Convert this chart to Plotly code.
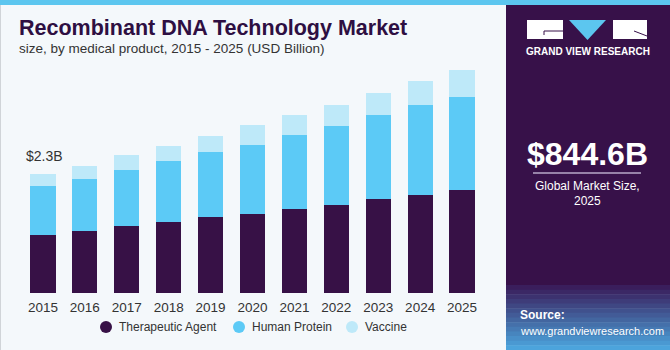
import plotly.graph_objects as go

years = ["2015", "2016", "2017", "2018", "2019", "2020", "2021", "2022", "2023", "2024", "2025"]
therapeutic = [1.12, 1.19, 1.29, 1.38, 1.46, 1.53, 1.63, 1.70, 1.81, 1.89, 1.99]
human_protein = [0.95, 1.01, 1.08, 1.17, 1.26, 1.33, 1.43, 1.52, 1.62, 1.75, 1.79]
vaccine = [0.23, 0.26, 0.29, 0.29, 0.32, 0.38, 0.38, 0.41, 0.43, 0.46, 0.53]
series_names = ["Therapeutic Agent", "Human Protein", "Vaccine"]
colors = ["#371146", "#5ccaf6", "#bee9f9"]

W, H = 670, 350
ML, MR, MT, MB = 22, 187, 60, 57
PW, PH = W - ML - MR, H - MT - MB


def px(x):
    return (x - ML) / PW


def py(y):
    return (H - MB - y) / PH


fig = go.Figure()
for name, vals, c in zip(series_names, [therapeutic, human_protein, vaccine], colors):
    fig.add_trace(go.Bar(x=years, y=vals, name=name, marker=dict(color=c, line=dict(width=0)),
                         showlegend=False, hoverinfo="skip"))

shapes = []
# top stripe
shapes.append(dict(type="rect", xref="paper", yref="paper", x0=px(0), x1=px(W), y0=py(5), y1=py(0),
                   fillcolor="#5cc6ef", line=dict(width=0), layer="below"))
# left border
shapes.append(dict(type="line", xref="paper", yref="paper", x0=px(0.5), x1=px(0.5), y0=py(H), y1=py(5),
                   line=dict(color="#d0d4d8", width=1)))
# right panel
shapes.append(dict(type="rect", xref="paper", yref="paper", x0=px(506), x1=px(W), y0=py(285), y1=py(5),
                   fillcolor="#371149", line=dict(width=0)))
# gradient source area
n = 14
c0 = (0x3a, 0x1e, 0x5c)
c1 = (0x4c, 0xa4, 0xdc)
for i in range(n):
    t = i / (n - 1)
    col = "rgb(%d,%d,%d)" % tuple(int(a + (b - a) * t) for a, b in zip(c0, c1))
    y0 = 285 + i * (H - 285) / n
    y1 = 285 + (i + 1) * (H - 285) / n
    shapes.append(dict(type="rect", xref="paper", yref="paper", x0=px(506), x1=px(W), y0=py(y1 + 0.5), y1=py(y0),
                       fillcolor=col, line=dict(width=0)))
# logo
shapes.append(dict(type="rect", xref="paper", yref="paper", x0=px(527), x1=px(563), y0=py(39), y1=py(20),
                   fillcolor="white", line=dict(width=0)))
shapes.append(dict(type="rect", xref="paper", yref="paper", x0=px(613), x1=px(647), y0=py(39), y1=py(20),
                   fillcolor="white", line=dict(width=0)))
shapes.append(dict(type="path", xref="paper", yref="paper",
                   path="M %f %f L %f %f L %f %f Z" % (px(569), py(20), px(606), py(20), px(587.5), py(40)),
                   fillcolor="#5cc6ef", line=dict(width=0)))
shapes.append(dict(type="line", xref="paper", yref="paper", x0=px(544), x1=px(563), y0=py(31), y1=py(31),
                   line=dict(color="#371149", width=1)))
shapes.append(dict(type="line", xref="paper", yref="paper", x0=px(544), x1=px(544), y0=py(31), y1=py(35),
                   line=dict(color="#371149", width=1)))
shapes.append(dict(type="line", xref="paper", yref="paper", x0=px(634), x1=px(647), y0=py(31), y1=py(36),
                   line=dict(color="#371149", width=1)))
# separator line in panel
shapes.append(dict(type="line", xref="paper", yref="paper", x0=px(533), x1=px(641), y0=py(173), y1=py(173),
                   line=dict(color="#b8a8c8", width=1.5)))

font = "Liberation Sans"
ann = [
    dict(x=px(17), y=py(28), text="<b>Recombinant DNA Technology Market</b>", xanchor="left", yanchor="middle",
         font=dict(size=21.5, color="#2e0f42", family=font)),
    dict(x=px(17), y=py(49), text="size, by medical product, 2015 - 2025 (USD Billion)", xanchor="left",
         yanchor="middle", font=dict(size=13.5, color="#333333", family=font)),
    dict(x=px(24), y=py(156), text="$2.3B", xanchor="left", yanchor="middle",
         font=dict(size=14, color="#333333", family=font)),
    dict(x=px(587.5), y=py(51), text="<b>GRAND VIEW RESEARCH</b>", xanchor="center", yanchor="middle",
         font=dict(size=10, color="white", family=font)),
    dict(x=px(587.5), y=py(154), text="<b>$844.6B</b>", xanchor="center", yanchor="middle",
         font=dict(size=32, color="white", family=font)),
    dict(x=px(587.5), y=py(186), text="Global Market Size,", xanchor="center", yanchor="middle",
         font=dict(size=12, color="white", family=font)),
    dict(x=px(587.5), y=py(201), text="2025", xanchor="center", yanchor="middle",
         font=dict(size=12, color="white", family=font)),
    dict(x=px(518), y=py(315), text="<b>Source:</b>", xanchor="left", yanchor="middle",
         font=dict(size=12, color="white", family=font)),
    dict(x=px(518), y=py(331), text="www.grandviewresearch.com", xanchor="left", yanchor="middle",
         font=dict(size=11, color="white", family=font)),
]

# legend (circles + labels)
legend_x = [106, 239, 352]
for lx, name, c in zip(legend_x, series_names, colors):
    shapes.append(dict(type="circle", xref="paper", yref="paper", x0=px(lx - 6), x1=px(lx + 6),
                       y0=py(333), y1=py(321), fillcolor=c, line=dict(width=0)))
    ann.append(dict(x=px(lx + 11), y=py(327), text=name, xanchor="left", yanchor="middle",
                    font=dict(size=12, color="#333333", family=font)))

for a in ann:
    a.update(xref="paper", yref="paper", showarrow=False)

fig.update_layout(
    width=W, height=H, barmode="stack", bargap=0.4,
    margin=dict(l=ML, r=MR, t=MT, b=MB),
    paper_bgcolor="#f4f8fb", plot_bgcolor="#f4f8fb",
    xaxis=dict(showgrid=False, zeroline=False, showline=False, ticks="", ticklabelstandoff=4,
               tickfont=dict(size=13.5, color="#333333", family=font)),
    yaxis=dict(range=[0, 4.5], visible=False, showgrid=False),
    shapes=shapes, annotations=ann, showlegend=False,
)
fig.write_html("out.html")
